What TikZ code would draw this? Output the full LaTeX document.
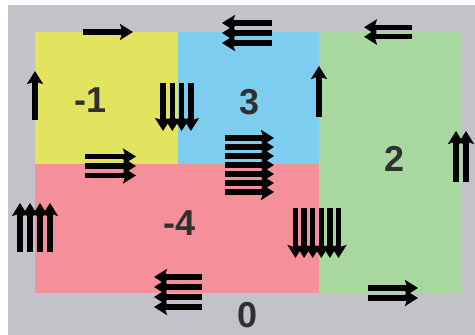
\documentclass[tikz,border=0pt]{standalone}
\usepackage{fontspec}
\setmainfont{Liberation Sans}
\usetikzlibrary{arrows.meta}
\definecolor{bggray}{HTML}{C2C3C8}
\definecolor{ryellow}{HTML}{E2E35E}
\definecolor{rblue}{HTML}{7DCDF0}
\definecolor{rgreen}{HTML}{A8D8A0}
\definecolor{rpink}{HTML}{F5909A}
\definecolor{labelc}{HTML}{303030}
\tikzset{
  flux/.style={line width=5.4pt,-{Stealth[length=13pt,width=16pt,inset=2.5pt]}},
  regionlabel/.style={font=\fontsize{36}{40}\selectfont\bfseries,text=labelc,inner sep=0pt}
}
% n, spacing, ycenter, xstart, xend
\newcommand\fluxh[5]{\foreach \i in {1,...,#1}{\draw[flux] (#4,{#3+(\i-(#1+1)/2)*#2}) -- (#5,{#3+(\i-(#1+1)/2)*#2});}}
% n, spacing, xcenter, ystart, yend
\newcommand\fluxv[5]{\foreach \i in {1,...,#1}{\draw[flux] ({#3+(\i-(#1+1)/2)*#2},#4) -- ({#3+(\i-(#1+1)/2)*#2},#5);}}
\begin{document}
\begin{tikzpicture}[x=1pt,y=-1pt]
\useasboundingbox (0,0) rectangle (475,335);
\fill[white] (0,0) rectangle (475,335);
\fill[bggray] (8,5) rectangle (475,335);
\fill[ryellow] (35,32) rectangle (178,165);
\fill[rblue] (178,32) rectangle (319,164);
\fill[rpink] (35,164) rectangle (319,293);
\fill[rgreen] (319,32) rectangle (462,293);
\node[regionlabel] (lm1) at (91,100) {-1};
\node[regionlabel] (l3) at (250,102) {3};
\node[regionlabel] (l2) at (395,159) {2};
\node[regionlabel] (lm4) at (180,223) {-4};
\node[regionlabel] (l0) at (248,315) {0};
\fluxh{1}{10}{32}{83}{133}
\fluxv{1}{10}{35}{120}{71}
\fluxv{4}{9.3}{177}{83}{131}
\fluxh{3}{10}{33}{272}{222}
\fluxh{2}{9.5}{32}{412}{364}
\fluxv{1}{10}{319}{117}{66}
\fluxv{2}{10}{461}{182}{131}
\fluxh{3}{9.5}{166}{85}{136}
\fluxh{7}{9}{165}{225}{274}
\fluxv{4}{10}{35}{252}{203}
\fluxv{6}{8.6}{317}{208}{258}
\fluxh{4}{10}{292}{202}{154}
\fluxh{2}{10}{293}{368}{418}
\end{tikzpicture}
\end{document}
